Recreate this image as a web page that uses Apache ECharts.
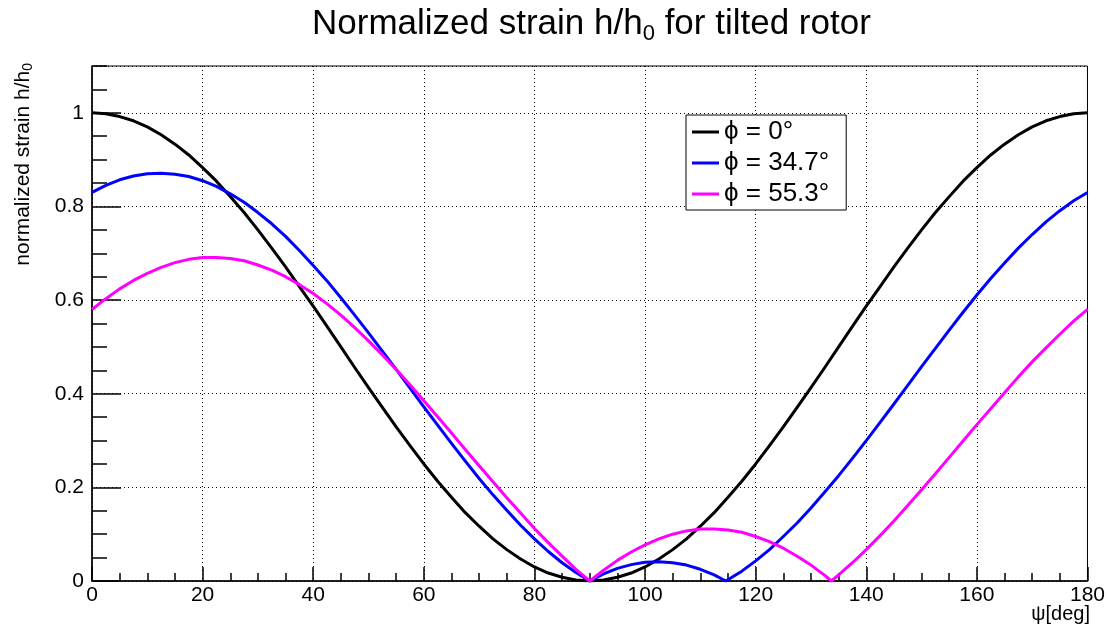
<!DOCTYPE html>
<html>
<head>
<meta charset="utf-8">
<script src="https://cdn.jsdelivr.net/npm/echarts@6/dist/echarts.min.js"></script>
<style>
html,body{margin:0;padding:0;background:#fff;}
#chart{width:1108px;height:632px;}
</style>
</head>
<body>
<div id="chart"></div>
<script>
// psi [deg] sample positions (each curve incl. its zero cusps)
const psiBlack = [0,2.5,5,7.5,10,12.5,15,17.5,20,22.5,25,27.5,30,32.5,35,37.5,40,42.5,45,47.5,50,52.5,55,57.5,60,62.5,65,67.5,70,72.5,75,77.5,80,82.5,85,87.5,90,92.5,95,97.5,100,102.5,105,107.5,110,112.5,115,117.5,120,122.5,125,127.5,130,132.5,135,137.5,140,142.5,145,147.5,150,152.5,155,157.5,160,162.5,165,167.5,170,172.5,175,177.5,180];
const psiBlue  = [0,2.5,5,7.5,10,12.5,15,17.5,20,22.5,25,27.5,30,32.5,35,37.5,40,42.5,45,47.5,50,52.5,55,57.5,60,62.5,65,67.5,70,72.5,75,77.5,80,82.5,85,87.5,90,92.5,95,97.5,100,102.5,105,107.5,110,112.5,114.6,117.5,120,122.5,125,127.5,130,132.5,135,137.5,140,142.5,145,147.5,150,152.5,155,157.5,160,162.5,165,167.5,170,172.5,175,177.5,180];
const psiMag   = [0,2.5,5,7.5,10,12.5,15,17.5,20,22.5,25,27.5,30,32.5,35,37.5,40,42.5,45,47.5,50,52.5,55,57.5,60,62.5,65,67.5,70,72.5,75,77.5,80,82.5,85,87.5,90,92.5,95,97.5,100,102.5,105,107.5,110,112.5,115,117.5,120,122.5,125,127.5,130,132.5,133.7,135,137.5,140,142.5,145,147.5,150,152.5,155,157.5,160,162.5,165,167.5,170,172.5,175,177.5,180];
// phi = 0 deg (black)
const phi0 = [1.000,0.998,0.992,0.983,0.970,0.953,0.933,0.910,0.883,0.854,0.821,0.787,0.750,0.711,0.671,0.629,0.587,0.544,0.500,0.456,0.413,0.371,0.329,0.289,0.250,0.213,0.179,0.146,0.117,0.090,0.067,0.047,0.030,0.017,0.008,0.002,0.000,0.002,0.008,0.017,0.030,0.047,0.067,0.090,0.117,0.146,0.179,0.213,0.250,0.289,0.329,0.371,0.413,0.456,0.500,0.544,0.587,0.629,0.671,0.711,0.750,0.787,0.821,0.854,0.883,0.910,0.933,0.953,0.970,0.983,0.992,0.998,1.000];
// phi = 34.7 deg (blue)
const phi347 = [0.830,0.845,0.857,0.865,0.870,0.871,0.869,0.864,0.855,0.843,0.827,0.809,0.787,0.763,0.736,0.706,0.674,0.641,0.605,0.568,0.530,0.491,0.452,0.412,0.372,0.333,0.294,0.256,0.219,0.184,0.151,0.119,0.090,0.063,0.039,0.018,0.000,0.015,0.027,0.035,0.040,0.041,0.039,0.034,0.025,0.013,0.000,0.021,0.043,0.067,0.095,0.124,0.156,0.190,0.225,0.262,0.300,0.339,0.378,0.418,0.458,0.497,0.536,0.574,0.611,0.646,0.679,0.711,0.740,0.767,0.791,0.812,0.830];
// phi = 55.3 deg (magenta)
const phi553 = [0.580,0.603,0.624,0.642,0.657,0.670,0.680,0.687,0.691,0.691,0.689,0.684,0.675,0.664,0.650,0.633,0.614,0.592,0.568,0.541,0.513,0.483,0.452,0.419,0.385,0.351,0.316,0.281,0.246,0.212,0.178,0.145,0.112,0.082,0.053,0.025,0.000,0.023,0.044,0.062,0.077,0.090,0.100,0.107,0.111,0.111,0.109,0.104,0.095,0.084,0.070,0.053,0.034,0.012,0.000,0.013,0.039,0.067,0.097,0.128,0.161,0.195,0.229,0.264,0.299,0.334,0.368,0.402,0.436,0.468,0.498,0.527,0.555,0.580];

const seriesNames  = ['\u03d5 = 0\u00b0', '\u03d5 = 34.7\u00b0', '\u03d5 = 55.3\u00b0'];
const seriesColors = ['#000000', '#0000ff', '#ff00ff'];
const xTicks = {min: 0, max: 180, step: 20, minorStep: 5};
const yTicks = {min: 0, max: 1.1, step: 0.2, minorStep: 0.05};

const FONT = '"Liberation Sans", Arial, Helvetica, sans-serif';
const curves = [[psiBlack, phi0], [psiBlue, phi347], [psiMag, phi553]];

const series = curves.map((c, i) => ({
  name: seriesNames[i], type: 'line',
  data: c[0].map((x, k) => [x, c[1][k]]),
  yAxisIndex: 0, symbol: 'none', smooth: false,
  lineStyle: {color: seriesColors[i], width: 3, join: 'round'},
  itemStyle: {color: seriesColors[i]}
}));

const chart = echarts.init(document.getElementById('chart'));
const dotted = {color: '#000', width: 1, type: [1, 3]};
chart.setOption({
  animation: false,
  backgroundColor: '#fff',
  textStyle: {fontFamily: FONT},
  title: {
    left: 312, top: 4, padding: 0,
    text: '{m|Normalized strain h/h}{s|0}{m| for tilted rotor}',
    textStyle: {
      fontWeight: 'normal',
      rich: {
        m: {fontSize: 35, lineHeight: 41, fontFamily: FONT, fontWeight: 'normal', color: '#000'},
        s: {fontSize: 22, lineHeight: 14, verticalAlign: 'bottom', fontFamily: FONT, fontWeight: 'normal', color: '#000'}
      }
    }
  },
  grid: {left: 92, top: 66, right: 20, bottom: 51, show: true, borderColor: '#000', borderWidth: 1, backgroundColor: 'transparent'},
  legend: {
    orient: 'vertical', left: 686, top: 115,
    data: seriesNames,
    icon: 'rect', itemWidth: 27, itemHeight: 3, itemGap: 5,
    padding: [4, 17, 3, 6],
    backgroundColor: '#fff', borderColor: '#000', borderWidth: 1,
    textStyle: {fontSize: 26, color: '#000', fontFamily: FONT}
  },
  xAxis: {
    type: 'value', min: xTicks.min, max: xTicks.max, interval: xTicks.step,
    axisLine: {show: true, lineStyle: {color: '#000', width: 1.5}},
    axisTick: {show: true, inside: true, length: 14, lineStyle: {color: '#000', width: 1.5}},
    minorTick: {show: true, splitNumber: xTicks.step / xTicks.minorStep, length: 8, lineStyle: {color: '#000', width: 1.5}},
    axisLabel: {fontSize: 21, color: '#000', margin: 4, fontFamily: FONT},
    splitLine: {show: true, lineStyle: dotted}
  },
  yAxis: [{
    type: 'value', min: yTicks.min, max: yTicks.max, interval: yTicks.step,
    axisLine: {show: true, lineStyle: {color: '#000', width: 1.5}},
    axisTick: {show: true, inside: true, length: 29, lineStyle: {color: '#000', width: 1.5}},
    axisLabel: {fontSize: 21, color: '#000', margin: 8, fontFamily: FONT, showMaxLabel: false,
      formatter: (v) => String(+v.toFixed(2))},
    splitLine: {show: true, lineStyle: dotted}
  }, {
    type: 'value', min: yTicks.min, max: yTicks.max, interval: yTicks.minorStep, position: 'left',
    axisLine: {show: false},
    axisTick: {show: true, inside: true, length: 15, lineStyle: {color: '#000', width: 1.5}},
    axisLabel: {show: false},
    splitLine: {show: false}
  }],
  graphic: [{
    type: 'text', x: 23, y: 63, rotation: Math.PI / 2,
    style: {
      text: '{n|normalized strain h/h}{s|0}',
      align: 'right', verticalAlign: 'middle',
      rich: {
        n: {fontSize: 21, lineHeight: 25, fontFamily: FONT, fill: '#000', color: '#000'},
        s: {fontSize: 14, lineHeight: 9, verticalAlign: 'bottom', fontFamily: FONT, fill: '#000', color: '#000'}
      }
    }
  }, {
    type: 'text', x: 1090, y: 614,
    style: {text: '\u03c8[deg]', font: '20px ' + FONT, fill: '#000', align: 'right', verticalAlign: 'middle'}
  }],
  series: series
});
</script>
</body>
</html>
